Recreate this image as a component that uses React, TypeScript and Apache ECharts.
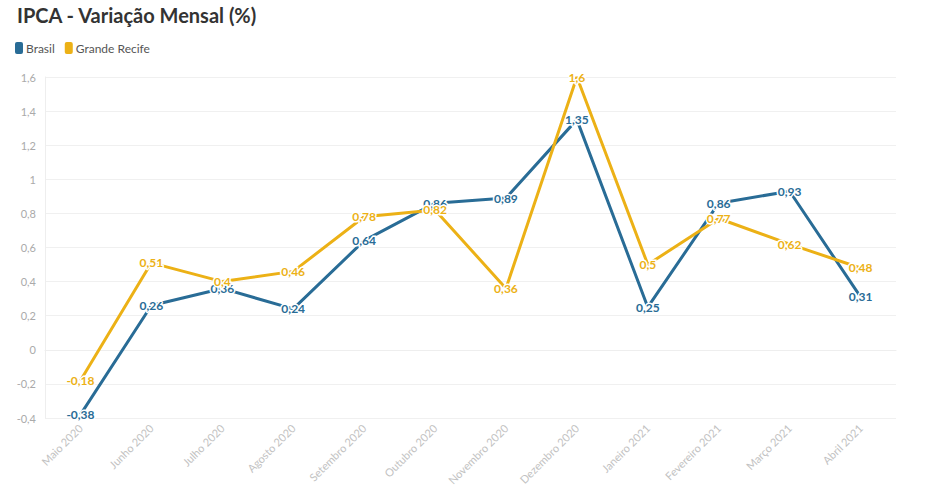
import React, { useEffect, useRef } from "react";
import * as echarts from "echarts";

const categories = [
  "Maio 2020", "Junho 2020", "Julho 2020", "Agosto 2020", "Setembro 2020", "Outubro 2020",
  "Novembro 2020", "Dezembro 2020", "Janeiro 2021", "Fevereiro 2021", "Março 2021", "Abril 2021",
];
const brasil = [-0.38, 0.26, 0.36, 0.24, 0.64, 0.86, 0.89, 1.35, 0.25, 0.86, 0.93, 0.31];
const recife = [-0.18, 0.51, 0.4, 0.46, 0.78, 0.82, 0.36, 1.6, 0.5, 0.77, 0.62, 0.48];
const seriesNames = ["Brasil", "Grande Recife"];
const colors = ["#296c96", "#ecb116"];

const FONT = "Lato, 'Open Sans', sans-serif";
const fmt = (v: number) => String(v).replace(".", ",");

export default function App() {
  const ref = useRef<HTMLDivElement>(null);
  useEffect(() => {
    document.body.style.margin = "0";
    const chart = echarts.init(ref.current!, null, { renderer: "svg" });
    const mkSeries = (name: string, data: number[], color: string, z: number) => ({
      name,
      type: "line",
      data,
      z,
      symbol: "circle",
      symbolSize: 0,
      showSymbol: true,
      showAllSymbol: true,
      lineStyle: { color, width: 3 },
      itemStyle: { color },
      labelLayout: { hideOverlap: false },
      label: {
        show: true,
        position: "inside",
        formatter: (p: any) => fmt(p.value),
        color,
        fontFamily: FONT,
        fontWeight: "bold",
        fontSize: 12,
        textBorderColor: "#fff",
        textBorderWidth: 3,
      },
    });
    chart.setOption({
      animation: false,
      backgroundColor: "#fff",
      title: {
        text: "IPCA - Variação Mensal (%)",
        left: 12,
        top: 0,
        textStyle: { fontFamily: FONT, fontWeight: "bold", fontSize: 20, color: "#333" },
      },
      legend: {
        left: 10,
        top: 37,
        icon: "roundRect",
        itemWidth: 8,
        itemHeight: 12,
        itemGap: 10,
        textStyle: { fontFamily: FONT, fontSize: 12, color: "#555", padding: [0, 0, 0, -2] },
        data: seriesNames,
      },
      color: colors,
      grid: { left: 45, right: 48, top: 77, bottom: 83, containLabel: false },
      xAxis: {
        type: "category",
        data: categories,
        boundaryGap: true,
        axisLine: { lineStyle: { color: "#eeeeee" } },
        axisTick: { alignWithLabel: true, length: 5, lineStyle: { color: "#eeeeee" } },
        axisLabel: { rotate: 45, color: "#c2c2c2", fontFamily: FONT, fontSize: 11, margin: 8 },
      },
      yAxis: {
        type: "value",
        min: -0.4,
        max: 1.6,
        interval: 0.2,
        axisLine: { show: true, lineStyle: { color: "#eeeeee" } },
        axisTick: { show: false },
        splitLine: { lineStyle: { color: "#f0f0f0" } },
        axisLabel: {
          color: "#aaaaaa",
          fontFamily: FONT,
          fontSize: 11,
          margin: 9,
          formatter: (v: number) => fmt(Math.round(v * 10) / 10),
        },
      },
      series: [mkSeries(seriesNames[0], brasil, colors[0], 2), mkSeries(seriesNames[1], recife, colors[1], 3)],
    });
    return () => chart.dispose();
  }, []);
  return <div ref={ref} style={{ width: 944, height: 501 }} />;
}
